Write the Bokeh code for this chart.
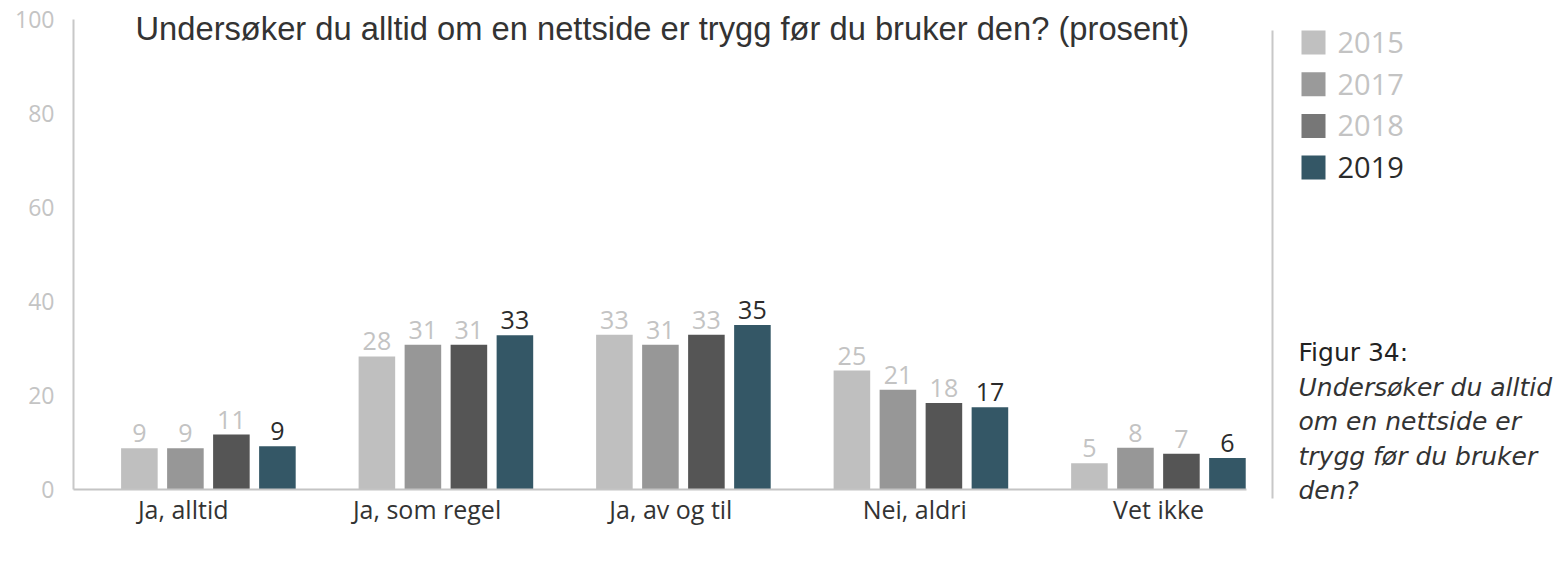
from bokeh.plotting import figure
from bokeh.models import Range1d, FixedTicker, Label
from bokeh.layouts import row
from bokeh.core.properties import value
from bokeh.embed import file_html
from bokeh.resources import INLINE

# ---------------- data ----------------
categories = ["Ja, alltid", "Ja, som regel", "Ja, av og til", "Nei, aldri", "Vet ikke"]
years = ["2015", "2017", "2018", "2019"]
v2015 = [8.8, 28.3, 32.9, 25.3, 5.6]
v2017 = [8.8, 30.8, 30.8, 21.2, 8.9]
v2018 = [11.7, 30.8, 32.9, 18.4, 7.6]
v2019 = [9.2, 32.8, 35.0, 17.5, 6.7]
l2015 = ["9", "28", "33", "25", "5"]
l2017 = ["9", "31", "31", "21", "8"]
l2018 = ["11", "31", "33", "18", "7"]
l2019 = ["9", "33", "35", "17", "6"]
y_ticks = [0, 20, 40, 60, 80, 100]
title_text = "Undersøker du alltid om en nettside er trygg før du bruker den? (prosent)"
caption_head = "Figur 34:"
caption_lines = ["Undersøker du alltid", "om en nettside er", "trygg før du bruker", "den?"]

series = [v2015, v2017, v2018, v2019]
labels = [l2015, l2017, l2018, l2019]
bar_colors = ["#bfbfbf", "#979797", "#555555", "#345766"]
swatch_colors = ["#c0c0c0", "#9a9a9a", "#777777", "#345766"]
label_colors = ["#c3c3c3", "#c3c3c3", "#c3c3c3", "#2b2b2b"]

FONT = "Open Sans"
TFONT = "Liberation Sans"
CFONT = "DejaVu Sans"

# ---------------- main chart ----------------
FW, FH = 1173, 489
LEFT, BOTTOM, RIGHT = 73, 45, 10
PX_PER_UNIT = 4.7
p = figure(frame_width=FW, frame_height=FH,
           min_border_left=LEFT, min_border_right=RIGHT, min_border_top=0, min_border_bottom=BOTTOM,
           x_range=Range1d(-0.4499, 4.3605), y_range=Range1d(0, FH / PX_PER_UNIT),
           output_backend="svg", toolbar_location=None)
p.outline_line_color = None
p.xgrid.visible = False
p.ygrid.visible = False
p.background_fill_color = "white"
p.border_fill_color = "white"

group_step = 0.974
group_shift = 0.1033
dodge = [-0.283, -0.0943, 0.0943, 0.283]
bw = 0.150
label_gap = 6 / PX_PER_UNIT
for k in range(4):
    xs = [i * group_step + group_shift + dodge[k] for i in range(len(categories))]
    p.vbar(x=xs, top=series[k], width=bw, bottom=0, fill_color=bar_colors[k], line_color=None)
    p.text(x=xs, y=[v + label_gap for v in series[k]], text=labels[k], text_align="center",
           text_baseline="bottom", text_font=value(FONT), text_font_size="25px",
           text_color=label_colors[k])

xa = p.xaxis[0]
xa.ticker = FixedTicker(ticks=list(range(len(categories))))
xa.major_label_overrides = {i: c for i, c in enumerate(categories)}
xa.major_tick_line_color = None
xa.minor_tick_line_color = None
xa.axis_line_color = "#c4c4c4"
xa.axis_line_width = 2
xa.major_label_text_font = FONT
xa.major_label_text_font_size = "25px"
xa.major_label_text_color = "#333333"
xa.major_label_standoff = -4

ya = p.yaxis[0]
ya.ticker = FixedTicker(ticks=y_ticks)
ya.bounds = (0, 100)
ya.major_tick_line_color = None
ya.minor_tick_line_color = None
ya.axis_line_color = "#c8c8c8"
ya.axis_line_width = 2
ya.major_label_text_font = FONT
ya.major_label_text_font_size = "23px"
ya.major_label_text_color = "#c4c4c4"
ya.major_label_standoff = 13

p.add_layout(Label(x=62, y=461, x_units="screen", y_units="screen", text=title_text,
                   text_font=TFONT, text_font_size="32.7px", text_color="#333333",
                   text_baseline="middle", text_align="left"))

# ---------------- right panel: legend + caption ----------------
RW = 301
QH = 515
q = figure(frame_width=RW, frame_height=QH, min_border=0,
           x_range=Range1d(0, RW), y_range=Range1d(QH, 0),
           x_axis_type=None, y_axis_type=None,
           output_backend="svg", toolbar_location=None)
q.outline_line_color = None
q.xgrid.visible = False
q.ygrid.visible = False
q.background_fill_color = "white"
q.border_fill_color = "white"

q.segment(x0=[16], y0=[30], x1=[16], y1=[498], line_color="#c8c8c8", line_width=2)

leg_y = [42 + 41.7 * k for k in range(len(years))]
q.rect(x=[57] * len(years), y=leg_y, width=24, height=24, fill_color=swatch_colors, line_color=None)
q.text(x=[81] * len(years), y=leg_y, text=years, text_baseline="middle", text_align="left",
       text_font=value(FONT), text_font_size="29px", text_color=label_colors)

q.text(x=[42], y=[352], text=[caption_head], text_baseline="middle", text_align="left",
       text_font=value(CFONT), text_font_size="25px", text_color="#222222")
cap_y = [387 + 34.4 * k for k in range(len(caption_lines))]
q.text(x=[42] * len(caption_lines), y=cap_y, text=caption_lines, text_baseline="middle",
       text_align="left", text_font=value(CFONT), text_font_size="25px",
       text_font_style="italic", text_color="#333333")

layout = row(p, q)
open("out.html", "w").write(file_html(layout, INLINE))
